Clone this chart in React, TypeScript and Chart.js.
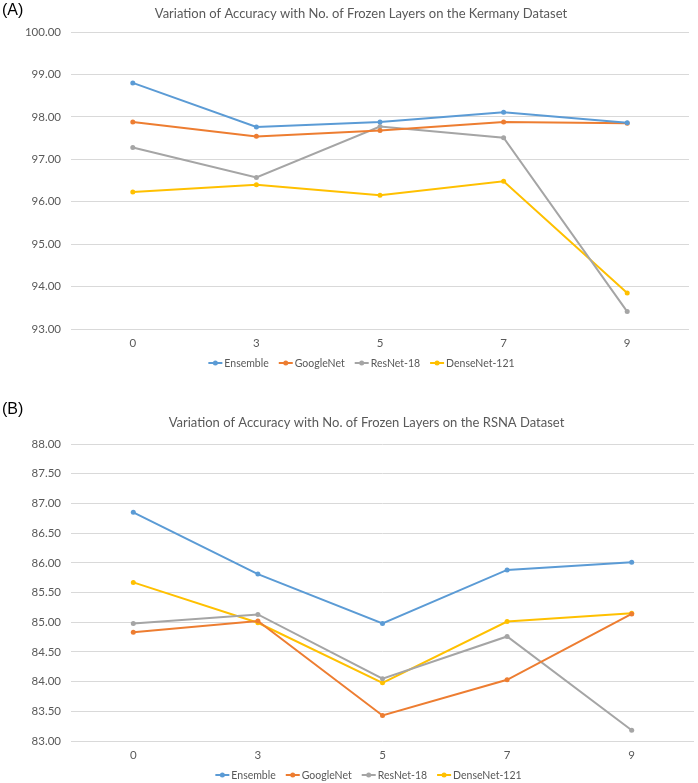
import React, { useEffect, useRef } from "react";
import { Chart, registerables } from "chart.js";

Chart.register(...registerables);

const frozenLayers = ["0", "3", "5", "7", "9"];
const seriesNames = ["Ensemble", "GoogleNet", "ResNet-18", "DenseNet-121"];
const seriesColors = ["#5B9BD5", "#ED7D31", "#A5A5A5", "#FFC000"];

const kermanyEnsemble = [98.8, 97.76, 97.88, 98.11, 97.86];
const kermanyGoogleNet = [97.88, 97.54, 97.68, 97.88, 97.85];
const kermanyResNet18 = [97.28, 96.57, 97.77, 97.51, 93.41];
const kermanyDenseNet121 = [96.23, 96.4, 96.15, 96.48, 93.85];

const rsnaEnsemble = [86.85, 85.81, 84.98, 85.88, 86.01];
const rsnaGoogleNet = [84.83, 85.02, 83.43, 84.03, 85.14];
const rsnaResNet18 = [84.98, 85.13, 84.05, 84.76, 83.18];
const rsnaDenseNet121 = [85.67, 84.99, 83.98, 85.01, 85.15];

const kermanyTitle = "Variation of Accuracy with No. of Frozen Layers on the Kermany Dataset";
const rsnaTitle = "Variation of Accuracy with No. of Frozen Layers on the RSNA Dataset";

const TEXT_COLOR = "#595959";
const GRID_COLOR = "#D9D9D9";
const FONT = "Lato, 'Open Sans', sans-serif";

const decorPlugin = {
  id: "excelDecor",
  afterDraw(chart: any, _args: any, opts: any) {
    const ctx = chart.ctx as CanvasRenderingContext2D;
    ctx.save();
    // title
    ctx.font = `${opts.titleSize}px ${FONT}`;
    ctx.fillStyle = TEXT_COLOR;
    ctx.textAlign = "center";
    ctx.textBaseline = "middle";
    ctx.fillText(opts.title, opts.titleX, opts.titleY);
    // legend
    ctx.font = `${opts.legendSize}px ${FONT}`;
    const marker = 14;
    const gapText = 2;
    const gapItem = 10;
    const widths = seriesNames.map((n) => ctx.measureText(n).width);
    const total =
      widths.reduce((a, b) => a + b, 0) + seriesNames.length * (marker + gapText) + (seriesNames.length - 1) * gapItem;
    let x = opts.legendX - total / 2;
    const y = opts.legendY;
    ctx.textAlign = "left";
    seriesNames.forEach((name, i) => {
      ctx.strokeStyle = seriesColors[i];
      ctx.lineWidth = 2;
      ctx.beginPath();
      ctx.moveTo(x, y);
      ctx.lineTo(x + marker, y);
      ctx.stroke();
      ctx.fillStyle = seriesColors[i];
      ctx.beginPath();
      ctx.arc(x + marker / 2, y, 2.5, 0, Math.PI * 2);
      ctx.fill();
      ctx.fillStyle = TEXT_COLOR;
      ctx.fillText(name, x + marker + gapText, y + 0.5);
      x += marker + gapText + widths[i] + gapItem;
    });
    ctx.restore();
  },
};

type ChartProps = {
  top: number;
  height: number;
  values: number[][];
  min: number;
  max: number;
  step: number;
  title: string;
  titleX: number;
  titleY: number;
  legendX: number;
  legendY: number;
  padTop: number;
  padBottom: number;
  padRight: number;
};

function LineChart(p: ChartProps) {
  const ref = useRef<HTMLCanvasElement | null>(null);
  useEffect(() => {
    if (!ref.current) return;
    const chart = new Chart(ref.current, {
      type: "line",
      data: {
        labels: frozenLayers,
        datasets: seriesNames.map((name, i) => ({
          label: name,
          data: p.values[i],
          borderColor: seriesColors[i],
          backgroundColor: seriesColors[i],
          pointBackgroundColor: seriesColors[i],
          pointBorderColor: seriesColors[i],
          borderWidth: 2,
          pointRadius: 2.5,
          pointBorderWidth: 0,
          tension: 0,
          fill: false,
        })),
      },
      options: {
        responsive: false,
        animation: false,
        layout: { padding: { top: p.padTop, bottom: p.padBottom, left: 0, right: p.padRight } },
        plugins: {
          legend: { display: false },
          title: { display: false },
          tooltip: { enabled: false },
          excelDecor: {
            title: p.title,
            titleX: p.titleX,
            titleY: p.titleY,
            titleSize: 13,
            legendX: p.legendX,
            legendY: p.legendY,
            legendSize: 10.5,
          },
        } as any,
        scales: {
          x: {
            type: "category",
            offset: true,
            grid: { display: false, drawTicks: false },
            border: { display: false },
            ticks: { color: TEXT_COLOR, font: { family: FONT, size: 11.5 }, padding: 7 },
            afterFit: (s: any) => {
              s.height = 21;
            },
          },
          y: {
            min: p.min,
            max: p.max,
            grid: { color: GRID_COLOR, lineWidth: 1, drawTicks: false },
            border: { display: false },
            ticks: {
              stepSize: p.step,
              color: TEXT_COLOR,
              font: { family: FONT, size: 11.5 },
              padding: 10,
              callback: (v: any) => Number(v).toFixed(2),
            },
            afterFit: (s: any) => {
              s.width = 71;
            },
          },
        },
      },
      plugins: [decorPlugin],
    });
    return () => chart.destroy();
  }, []);
  return (
    <canvas
      ref={ref}
      width={698}
      height={p.height}
      style={{ position: "absolute", left: 0, top: p.top, width: 698, height: p.height, display: "block" }}
    />
  );
}

export default function App() {
  const labelStyle: React.CSSProperties = {
    position: "absolute",
    left: 2,
    fontFamily: "'Liberation Sans', Arial, sans-serif",
    fontSize: 16,
    color: "#000",
    lineHeight: "18px",
  };
  return (
    <div style={{ position: "absolute", left: 0, top: 0, width: 698, height: 783, background: "#fff", overflow: "hidden" }}>
      <LineChart
        top={0}
        height={390}
        values={[kermanyEnsemble, kermanyGoogleNet, kermanyResNet18, kermanyDenseNet121]}
        min={93}
        max={100}
        step={1}
        title={kermanyTitle}
        titleX={361}
        titleY={14}
        legendX={361.5}
        legendY={363}
        padTop={32}
        padBottom={40}
        padRight={9}
      />
      <LineChart
        top={392}
        height={391}
        values={[rsnaEnsemble, rsnaGoogleNet, rsnaResNet18, rsnaDenseNet121]}
        min={83}
        max={88}
        step={0.5}
        title={rsnaTitle}
        titleX={366.5}
        titleY={31}
        legendX={368.5}
        legendY={383}
        padTop={52}
        padBottom={21}
        padRight={2}
      />
      <div style={{ ...labelStyle, top: 1 }}>(A)</div>
      <div style={{ ...labelStyle, top: 400 }}>(B)</div>
    </div>
  );
}
